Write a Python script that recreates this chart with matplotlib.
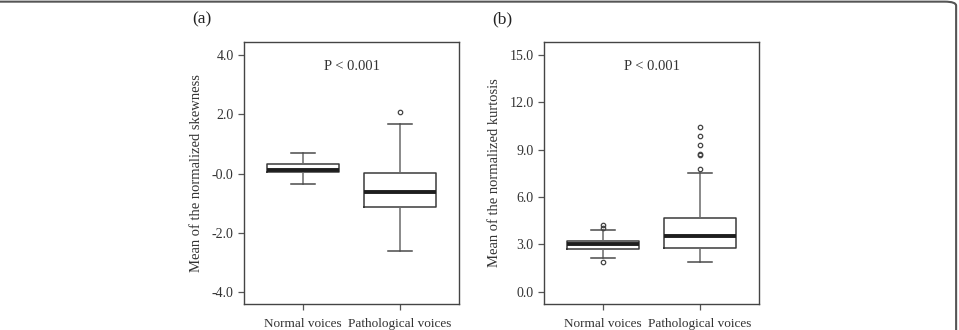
import matplotlib
matplotlib.use("Agg")
import matplotlib.pyplot as plt
from matplotlib.patches import FancyBboxPatch

plt.rcParams['font.family'] = ['Liberation Serif', 'DejaVu Serif']

groups = ["Normal voices", "Pathological voices"]

# Panel (a): mean of the normalized skewness
skew_whislo = [-0.34, -2.60]
skew_q1 = [0.06, -1.14]
skew_med = [0.13, -0.61]
skew_q3 = [0.32, 0.01]
skew_whishi = [0.71, 1.66]
skew_fliers = [[], [2.07]]

# Panel (b): mean of the normalized kurtosis
kurt_whislo = [2.15, 1.88]
kurt_q1 = [2.72, 2.76]
kurt_med = [3.00, 3.54]
kurt_q3 = [3.22, 4.70]
kurt_whishi = [3.90, 7.55]
kurt_fliers = [[4.22, 4.02, 1.86], [10.41, 9.84, 9.27, 8.75, 8.64, 7.78]]

skew_ticks = [-4.0, -2.0, 0.0, 2.0, 4.0]
skew_ticklabels = ["-4.0", "-2.0", "-0.0", "2.0", "4.0"]
kurt_ticks = [0.0, 3.0, 6.0, 9.0, 12.0, 15.0]
kurt_ticklabels = ["0.0", "3.0", "6.0", "9.0", "12.0", "15.0"]


def make_stats(lo, q1, med, q3, hi, fl):
    out = []
    for i in range(len(lo)):
        out.append(dict(whislo=lo[i], q1=q1[i], med=med[i], q3=q3[i],
                        whishi=hi[i], fliers=fl[i], label=groups[i]))
    return out


def draw_panel(ax, stats, ylim, ticks, ticklabels, ylabel, letter):
    ax.bxp(stats, positions=[1, 2], widths=0.74, capwidths=0.24,
           boxprops=dict(color='#3a3a3a', linewidth=1.1),
           whiskerprops=dict(color='#6a6a6a', linewidth=1.1),
           capprops=dict(color='#4a4a4a', linewidth=1.1),
           medianprops=dict(color='#1e1e1e', linewidth=2.8),
           flierprops=dict(marker='o', markersize=3.2, markerfacecolor='none',
                           markeredgecolor='#444444', markeredgewidth=0.9))
    ax.set_xlim(0.394, 2.606)
    ax.set_ylim(*ylim)
    ax.set_yticks(ticks)
    ax.set_yticklabels(ticklabels)
    ax.set_xticks([1, 2])
    ax.set_xticklabels(groups)
    ax.tick_params(axis='both', direction='out', length=4, width=0.9,
                   color='#555555', labelcolor='#333333', labelsize=9.5)
    ax.tick_params(axis='y', labelsize=10)
    ax.tick_params(axis='x', pad=6)
    for s in ax.spines.values():
        s.set_color('#444444')
        s.set_linewidth(1.0)
    ax.set_ylabel(ylabel, fontsize=10.5, color='#333333', labelpad=6)
    ax.text(0.5, 0.905, "P < 0.001", transform=ax.transAxes, ha='center',
            va='center', fontsize=10.5, color='#333333')
    ax.text(-0.24, 1.085, letter, transform=ax.transAxes, ha='left',
            va='center', fontsize=12.5, color='#222222')


fig = plt.figure(figsize=(9.59, 3.30), dpi=100)
ax1 = fig.add_axes([244 / 959, 1 - 304 / 330, 215 / 959, 262 / 330])
ax2 = fig.add_axes([544 / 959, 1 - 304 / 330, 215 / 959, 262 / 330])

draw_panel(ax1, make_stats(skew_whislo, skew_q1, skew_med, skew_q3, skew_whishi, skew_fliers),
           (-4.4, 4.44), skew_ticks, skew_ticklabels,
           "Mean of the normalized skewness", "(a)")
draw_panel(ax2, make_stats(kurt_whislo, kurt_q1, kurt_med, kurt_q3, kurt_whishi, kurt_fliers),
           (-0.78, 15.82), kurt_ticks, kurt_ticklabels,
           "Mean of the normalized kurtosis", "(b)")

# rounded frame around the figure (only top and right visible)
frame = FancyBboxPatch((-0.02, -0.2), 1.017, 1.195, transform=fig.transFigure,
                       boxstyle="round,pad=0,rounding_size=0.012",
                       facecolor='none', edgecolor='#555555', linewidth=1.5,
                       clip_on=False)
fig.patches.append(frame)

fig.savefig("out.png", dpi=100)
